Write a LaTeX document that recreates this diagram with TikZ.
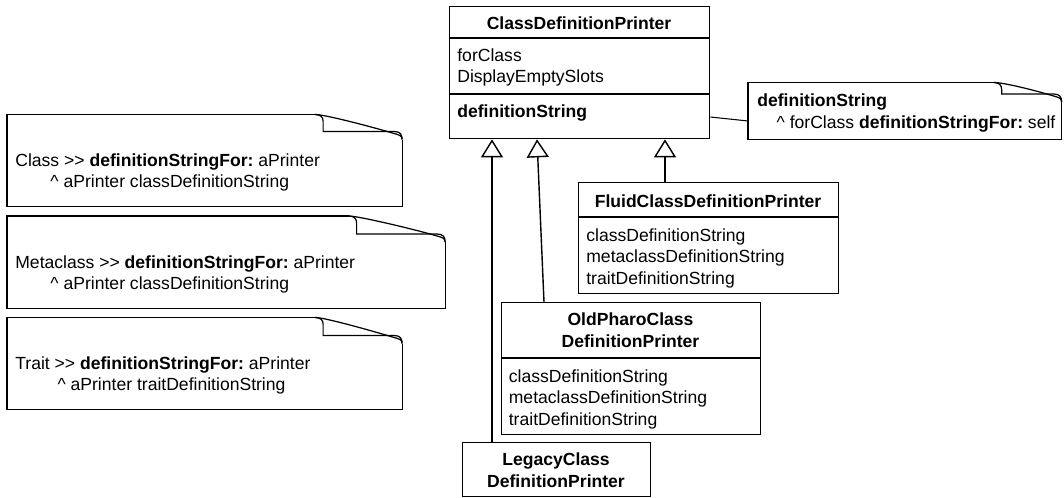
\documentclass[tikz,border=0pt]{standalone}
\usepackage{fontspec}
\setmainfont{Liberation Sans}
\usepackage{tikz}
\usetikzlibrary{positioning}
\usetikzlibrary{arrows.meta}
\frenchspacing

% note outline with a curled corner: node, fold width, fold height
\newcommand{\notefold}[3]{
  \draw[notepen] ([shift={(-#2-8,0)}]#1.north east) -- (#1.north west) -- (#1.south west)
    -- (#1.south east) -- ([shift={(0,#3+8)}]#1.north east);
  \draw[notepen] ([shift={(-#2-8,0)}]#1.north east) .. controls +(6,0) and +(0,-4) .. ([shift={(-#2,7)}]#1.north east)
    -- ([shift={(-#2,#3)}]#1.north east) -- ([shift={(-8,#3)}]#1.north east)
    .. controls +(6,0) and +(0,-5) .. ([shift={(0,#3+8)}]#1.north east);
  \draw[notepen] ([shift={(-#2-8,0)}]#1.north east) .. controls +(10,0) and +(-20,-6) .. ([shift={(-8,#3+2)}]#1.north east)
    .. controls +(5,1.5) and +(0,-4) .. ([shift={(0,#3+8)}]#1.north east);
}

\begin{document}
\begin{tikzpicture}[x=0.02cm,y=-0.02cm,font=\fontsize{10}{12}\selectfont,
    classbox/.style={draw,line width=0.8pt,anchor=north west,inner sep=0pt},
    notebox/.style={anchor=north west,inner sep=0pt},
    notepen/.style={line width=0.7pt},
    slottext/.style={anchor=base west,inner sep=0pt,align=left},
    classname/.style={anchor=base,inner sep=0pt,align=center,font=\fontsize{10}{12}\selectfont\bfseries},
    inherit/.style={-{Triangle[open,length=0.36cm,width=0.44cm]},line width=0.8pt}]
        \useasboundingbox (0,0) rectangle (1064,497);

        % classes (multi-line texts sit on the base line of their last line)
        \node[classbox,minimum width=5.2cm,minimum height=2.64cm] (cdp) at (449,6) {};
        \node[classname] (cdpname) at (579,29.5) {ClassDefinitionPrinter};
        \node[slottext] (cdpvars) at (457,82.5) {forClass\\DisplayEmptySlots};
        \node[slottext,font=\fontsize{10}{12}\selectfont\bfseries] (cdpmeth) at (457,117) {definitionString};
        \draw [line width=0.8pt] (cdp.west |- 0,38) -- (cdp.east |- 0,38);
        \draw [line width=0.8pt] (cdp.west |- 0,94) -- (cdp.east |- 0,94);

        \node[classbox,minimum width=5.2cm,minimum height=2.22cm] (fluid) at (578,182) {};
        \node[classname] (fluidname) at (708,207) {FluidClassDefinitionPrinter};
        \node[slottext] (fluidmeth) at (586,284) {classDefinitionString\\metaclassDefinitionString\\traitDefinitionString};
        \draw [line width=0.8pt] (fluid.west |- 0,217) -- (fluid.east |- 0,217);

        \node[classbox,minimum width=5.18cm,minimum height=2.64cm] (oldpharo) at (501,302) {};
        \node[classname] (oldpharoname) at (630.5,347) {OldPharoClass\\DefinitionPrinter};
        \node[slottext] (oldpharometh) at (508.5,425) {classDefinitionString\\metaclassDefinitionString\\traitDefinitionString};
        \draw [line width=0.8pt] (oldpharo.west |- 0,358) -- (oldpharo.east |- 0,358);

        \node[classbox,minimum width=3.76cm,minimum height=1.08cm] (legacy) at (462,442) {};
        \node[classname] (legacyname) at (556,487) {LegacyClass\\DefinitionPrinter};

        % inheritance
        \draw [inherit] (legacy.north -| 492,0) -- (cdp.south -| 492,0);
        \draw [inherit] (oldpharo.north -| 544,0) -- (cdp.south -| 537,0);
        \draw [inherit] (fluid.north -| 665,0) -- (cdp.south -| 665,0);

        % notes
        \node[notebox,minimum width=6.26cm,minimum height=1.13cm] (dsnote) at (748,82.5) {};
        \notefold{dsnote}{60}{11.5}
        \node[slottext] (dsnotetext) at (757,128) {\textbf{definitionString}\\\hspace*{11pt}\textasciicircum{} forClass \textbf{definitionStringFor:} self};
        \draw [line width=0.6pt] (cdp.east |- 0,117) -- (dsnote.west |- 0,121);

        \node[notebox,minimum width=7.89cm,minimum height=1.82cm] (classnote) at (7,114.5) {};
        \notefold{classnote}{79}{17}
        \node[slottext] (classnotetext) at (15,187.5) {Class >\kern0pt> \textbf{definitionStringFor:} aPrinter\\\hspace*{20pt}\textasciicircum{} aPrinter classDefinitionString};

        \node[notebox,minimum width=8.75cm,minimum height=1.83cm] (metanote) at (7,216) {};
        \notefold{metanote}{88.5}{18}
        \node[slottext] (metanotetext) at (15,289.5) {Metaclass >\kern0pt> \textbf{definitionStringFor:} aPrinter\\\hspace*{20pt}\textasciicircum{} aPrinter classDefinitionString};

        \node[notebox,minimum width=7.89cm,minimum height=1.83cm] (traitnote) at (7,317.5) {};
        \notefold{traitnote}{79}{18}
        \node[slottext] (traitnotetext) at (15,390.5) {Trait >\kern0pt> \textbf{definitionStringFor:} aPrinter\\\hspace*{24pt}\textasciicircum{} aPrinter traitDefinitionString};
      \end{tikzpicture}
\end{document}
